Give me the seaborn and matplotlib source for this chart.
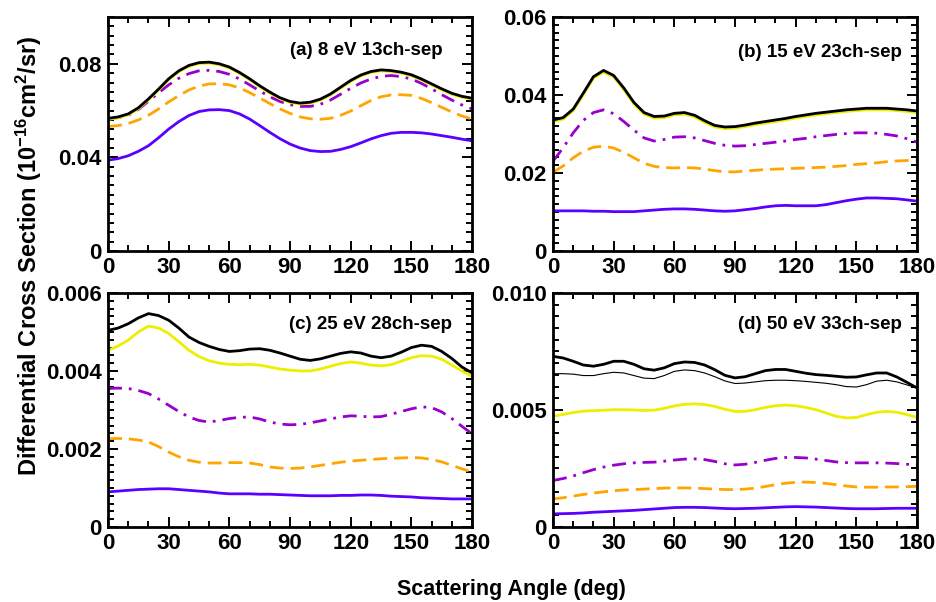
import numpy as np
import matplotlib
matplotlib.use("Agg")
import matplotlib.pyplot as plt
import seaborn as sns
from matplotlib.ticker import MultipleLocator

# scattering angles (deg), 5-degree grid shared by all panels
ANGLES = list(range(0, 181, 5))

# (a) 8 eV
a_blue = [0.0388, 0.0395, 0.0407, 0.0426, 0.0450, 0.0484, 0.0521, 0.0553, 0.0579, 0.0596,
          0.0603, 0.0604, 0.0600, 0.0586, 0.0564, 0.0536, 0.0507, 0.0480, 0.0457, 0.0440,
          0.0429, 0.0425, 0.0426, 0.0434, 0.0446, 0.0462, 0.0479, 0.0493, 0.0503, 0.0507,
          0.0507, 0.0505, 0.0500, 0.0493, 0.0486, 0.0478, 0.0471]
a_orange = [0.0532, 0.0536, 0.0545, 0.0560, 0.0580, 0.0607, 0.0637, 0.0664, 0.0688, 0.0705,
            0.0714, 0.0715, 0.0710, 0.0697, 0.0677, 0.0654, 0.0630, 0.0607, 0.0588, 0.0573,
            0.0565, 0.0563, 0.0567, 0.0580, 0.0598, 0.0621, 0.0643, 0.0659, 0.0667, 0.0668,
            0.0665, 0.0652, 0.0634, 0.0614, 0.0594, 0.0577, 0.0564]
a_purple = [0.0565, 0.0570, 0.0580, 0.0605, 0.0640, 0.0676, 0.0710, 0.0738, 0.0758, 0.0770,
            0.0772, 0.0767, 0.0755, 0.0735, 0.0710, 0.0684, 0.0659, 0.0639, 0.0625, 0.0618,
            0.0618, 0.0627, 0.0645, 0.0670, 0.0695, 0.0718, 0.0735, 0.0746, 0.0750, 0.0745,
            0.0735, 0.0716, 0.0693, 0.0668, 0.0645, 0.0624, 0.0607]
a_yellow = [0.0563, 0.0569, 0.0582, 0.0608, 0.0646, 0.0688, 0.0732, 0.0766, 0.0789, 0.0801,
            0.0803, 0.0796, 0.0782, 0.0759, 0.0732, 0.0702, 0.0675, 0.0651, 0.0635, 0.0628,
            0.0632, 0.0645, 0.0667, 0.0696, 0.0725, 0.0748, 0.0763, 0.0770, 0.0767, 0.0760,
            0.0749, 0.0731, 0.0710, 0.0689, 0.0670, 0.0657, 0.0649]
a_black = [0.0567, 0.0573, 0.0586, 0.0612, 0.0650, 0.0692, 0.0736, 0.0770, 0.0793, 0.0805,
           0.0807, 0.0800, 0.0786, 0.0763, 0.0736, 0.0706, 0.0679, 0.0655, 0.0639, 0.0632,
           0.0636, 0.0649, 0.0671, 0.0700, 0.0729, 0.0752, 0.0767, 0.0774, 0.0771, 0.0764,
           0.0753, 0.0735, 0.0714, 0.0693, 0.0674, 0.0661, 0.0653]

# (b) 15 eV
b_blue = [0.0103, 0.0103, 0.0103, 0.0103, 0.0102, 0.0102, 0.0101, 0.0101, 0.0101, 0.0103,
          0.0105, 0.0107, 0.0108, 0.0108, 0.0107, 0.0105, 0.0103, 0.0102, 0.0103, 0.0106,
          0.0109, 0.0113, 0.0116, 0.0117, 0.0116, 0.0116, 0.0116, 0.0119, 0.0124, 0.0129,
          0.0133, 0.0136, 0.0136, 0.0135, 0.0134, 0.0131, 0.0128]
b_orange = [0.0202, 0.0218, 0.0239, 0.0256, 0.0266, 0.0269, 0.0264, 0.0253, 0.0239, 0.0225,
            0.0217, 0.0214, 0.0213, 0.0214, 0.0213, 0.0210, 0.0206, 0.0203, 0.0203, 0.0205,
            0.0207, 0.0209, 0.0210, 0.0211, 0.0212, 0.0213, 0.0214, 0.0215, 0.0217, 0.0219,
            0.0222, 0.0224, 0.0226, 0.0229, 0.0231, 0.0232, 0.0233]
b_purple = [0.0230, 0.0265, 0.0303, 0.0335, 0.0355, 0.0362, 0.0352, 0.0332, 0.0310, 0.0290,
            0.0282, 0.0286, 0.0292, 0.0293, 0.0290, 0.0283, 0.0276, 0.0271, 0.0269, 0.0270,
            0.0273, 0.0276, 0.0279, 0.0282, 0.0286, 0.0289, 0.0293, 0.0296, 0.0299, 0.0301,
            0.0303, 0.0303, 0.0302, 0.0299, 0.0295, 0.0288, 0.0279]
b_yellow = [0.0332, 0.0338, 0.0360, 0.0401, 0.0443, 0.0459, 0.0446, 0.0414, 0.0377, 0.0351,
            0.0341, 0.0342, 0.0349, 0.0351, 0.0344, 0.0330, 0.0318, 0.0314, 0.0315, 0.0319,
            0.0324, 0.0328, 0.0332, 0.0336, 0.0341, 0.0345, 0.0349, 0.0352, 0.0355, 0.0358,
            0.0360, 0.0362, 0.0362, 0.0362, 0.0360, 0.0358, 0.0355]
b_black = [0.0336, 0.0342, 0.0364, 0.0405, 0.0447, 0.0463, 0.0450, 0.0418, 0.0381, 0.0355,
           0.0345, 0.0346, 0.0353, 0.0355, 0.0348, 0.0334, 0.0322, 0.0318, 0.0319, 0.0323,
           0.0328, 0.0332, 0.0336, 0.0340, 0.0345, 0.0349, 0.0353, 0.0356, 0.0359, 0.0362,
           0.0364, 0.0366, 0.0366, 0.0366, 0.0364, 0.0362, 0.0359]

# (c) 25 eV
c_blue = [0.00090, 0.00092, 0.00094, 0.00096, 0.00097, 0.00098, 0.00098, 0.00096, 0.00094, 0.00092,
          0.00090, 0.00087, 0.00085, 0.00085, 0.00085, 0.00084, 0.00084, 0.00083, 0.00082, 0.00081,
          0.00080, 0.00080, 0.00080, 0.00081, 0.00081, 0.00082, 0.00082, 0.00081, 0.00079, 0.00078,
          0.00077, 0.00075, 0.00074, 0.00073, 0.00072, 0.00072, 0.00072]
c_orange = [0.00226, 0.00227, 0.00226, 0.00223, 0.00218, 0.00206, 0.00192, 0.00180, 0.00171, 0.00166,
            0.00164, 0.00164, 0.00165, 0.00165, 0.00164, 0.00160, 0.00154, 0.00151, 0.00150, 0.00151,
            0.00154, 0.00158, 0.00162, 0.00166, 0.00169, 0.00171, 0.00173, 0.00175, 0.00176, 0.00177,
            0.00178, 0.00177, 0.00173, 0.00167, 0.00158, 0.00149, 0.00141]
c_purple = [0.00355, 0.00356, 0.00355, 0.00350, 0.00342, 0.00328, 0.00312, 0.00296, 0.00282, 0.00273,
            0.00269, 0.00273, 0.00278, 0.00281, 0.00282, 0.00277, 0.00269, 0.00264, 0.00262, 0.00263,
            0.00267, 0.00272, 0.00277, 0.00282, 0.00285, 0.00284, 0.00282, 0.00283, 0.00289, 0.00296,
            0.00303, 0.00308, 0.00306, 0.00295, 0.00278, 0.00258, 0.00239]
c_yellow = [0.00453, 0.00464, 0.00479, 0.00500, 0.00515, 0.00510, 0.00496, 0.00475, 0.00453, 0.00437,
            0.00426, 0.00420, 0.00417, 0.00416, 0.00417, 0.00415, 0.00410, 0.00405, 0.00402, 0.00400,
            0.00400, 0.00405, 0.00412, 0.00419, 0.00423, 0.00420, 0.00415, 0.00413, 0.00416, 0.00425,
            0.00434, 0.00439, 0.00438, 0.00430, 0.00415, 0.00400, 0.00386]
c_black = [0.00504, 0.00510, 0.00521, 0.00536, 0.00547, 0.00542, 0.00530, 0.00510, 0.00487, 0.00473,
           0.00463, 0.00455, 0.00450, 0.00452, 0.00456, 0.00457, 0.00453, 0.00446, 0.00438, 0.00430,
           0.00427, 0.00431, 0.00438, 0.00445, 0.00449, 0.00446, 0.00438, 0.00434, 0.00438, 0.00448,
           0.00460, 0.00466, 0.00463, 0.00450, 0.00432, 0.00410, 0.00395]

# (d) 50 eV
d_blue = [0.00056, 0.00057, 0.00058, 0.00060, 0.00063, 0.00065, 0.00067, 0.00069, 0.00071, 0.00074,
          0.00077, 0.00080, 0.00083, 0.00084, 0.00084, 0.00083, 0.00081, 0.00079, 0.00078, 0.00079,
          0.00080, 0.00082, 0.00084, 0.00086, 0.00087, 0.00086, 0.00085, 0.00083, 0.00081, 0.00079,
          0.00078, 0.00078, 0.00078, 0.00079, 0.00080, 0.00080, 0.00080]
d_orange = [0.00120, 0.00125, 0.00132, 0.00139, 0.00145, 0.00150, 0.00155, 0.00158, 0.00160, 0.00162,
            0.00164, 0.00166, 0.00167, 0.00167, 0.00166, 0.00164, 0.00162, 0.00160, 0.00160, 0.00162,
            0.00166, 0.00173, 0.00181, 0.00187, 0.00191, 0.00192, 0.00190, 0.00186, 0.00181, 0.00175,
            0.00171, 0.00170, 0.00170, 0.00171, 0.00171, 0.00172, 0.00174]
d_purple = [0.00199, 0.00207, 0.00218, 0.00232, 0.00245, 0.00256, 0.00264, 0.00270, 0.00274, 0.00276,
            0.00277, 0.00281, 0.00286, 0.00290, 0.00291, 0.00288, 0.00280, 0.00270, 0.00265, 0.00268,
            0.00276, 0.00285, 0.00293, 0.00297, 0.00297, 0.00295, 0.00290, 0.00284, 0.00278, 0.00275,
            0.00274, 0.00274, 0.00274, 0.00273, 0.00271, 0.00268, 0.00266]
d_yellow = [0.00473, 0.00481, 0.00489, 0.00495, 0.00497, 0.00499, 0.00501, 0.00501, 0.00500, 0.00498,
            0.00499, 0.00507, 0.00517, 0.00524, 0.00526, 0.00523, 0.00515, 0.00503, 0.00494, 0.00494,
            0.00501, 0.00511, 0.00518, 0.00521, 0.00518, 0.00511, 0.00501, 0.00487, 0.00473, 0.00466,
            0.00468, 0.00480, 0.00490, 0.00494, 0.00490, 0.00480, 0.00469]
d_thin = [0.00655, 0.00655, 0.00653, 0.00647, 0.00647, 0.00655, 0.00661, 0.00658, 0.00647, 0.00636,
          0.00634, 0.00647, 0.00665, 0.00671, 0.00668, 0.00658, 0.00642, 0.00624, 0.00613, 0.00615,
          0.00620, 0.00625, 0.00627, 0.00627, 0.00625, 0.00622, 0.00618, 0.00614, 0.00608, 0.00600,
          0.00598, 0.00608, 0.00623, 0.00627, 0.00620, 0.00607, 0.00594]
d_black = [0.00729, 0.00722, 0.00708, 0.00692, 0.00687, 0.00695, 0.00708, 0.00708, 0.00695, 0.00676,
           0.00670, 0.00680, 0.00698, 0.00705, 0.00703, 0.00692, 0.00672, 0.00648, 0.00637, 0.00642,
           0.00655, 0.00668, 0.00673, 0.00673, 0.00665, 0.00657, 0.00651, 0.00648, 0.00644, 0.00640,
           0.00641, 0.00650, 0.00658, 0.00658, 0.00641, 0.00618, 0.00594]

panel_titles = ["(a) 8 eV 13ch-sep", "(b) 15 eV 23ch-sep", "(c) 25 eV 28ch-sep", "(d) 50 eV 33ch-sep"]
y_max = [0.1, 0.06, 0.006, 0.010]
y_major = [0.04, 0.02, 0.002, 0.005]
y_ticklabels = [["0", "0.04", "0.08"], ["0", "0.02", "0.04", "0.06"],
                ["0", "0.002", "0.004", "0.006"], ["0", "0.005", "0.010"]]

BLUE = "#5a00ff"
ORANGE = "#ffa500"
PURPLE = "#9900cc"
YELLOW = "#eeee00"
BLACK = "#000000"

sns.set_style("ticks", {"axes.edgecolor": "black", "text.color": "black",
                        "xtick.color": "black", "ytick.color": "black",
                        "axes.labelcolor": "black"})
plt.rcParams['font.family'] = ['Liberation Sans', 'DejaVu Sans']
plt.rcParams['font.weight'] = 'bold'
plt.rcParams['mathtext.fontset'] = 'custom'
plt.rcParams['mathtext.rm'] = 'Liberation Sans:bold'
plt.rcParams['mathtext.default'] = 'rm'

fig = plt.figure(figsize=(9.37, 6.02), dpi=100)
# axes rectangles: left, bottom, width, height
rects = [[0.1153, 0.583, 0.3885, 0.3888], [0.5902, 0.583, 0.3885, 0.3888],
         [0.1153, 0.1246, 0.3885, 0.3888], [0.5902, 0.1246, 0.3885, 0.3888]]
title_pos = [(0.918, 0.855), (0.959, 0.85), (0.945, 0.863), (0.959, 0.863)]

DASH = (0, (5, 2.5))
DASHDOT = (0, (5, 2.5, 1, 2.5))
panels = [
    [(a_blue, BLUE, '-', 2.0), (a_orange, ORANGE, DASH, 2.0), (a_purple, PURPLE, DASHDOT, 2.0),
     (a_yellow, YELLOW, '-', 2.0), (a_black, BLACK, '-', 2.0)],
    [(b_blue, BLUE, '-', 2.0), (b_orange, ORANGE, DASH, 2.0), (b_purple, PURPLE, DASHDOT, 2.0),
     (b_yellow, YELLOW, '-', 2.0), (b_black, BLACK, '-', 2.0)],
    [(c_blue, BLUE, '-', 2.0), (c_orange, ORANGE, DASH, 2.0), (c_purple, PURPLE, DASHDOT, 2.0),
     (c_yellow, YELLOW, '-', 2.0), (c_black, BLACK, '-', 2.0)],
    [(d_blue, BLUE, '-', 2.0), (d_orange, ORANGE, DASH, 2.0), (d_purple, PURPLE, DASHDOT, 2.0),
     (d_yellow, YELLOW, '-', 2.0), (d_thin, BLACK, '-', 0.8), (d_black, BLACK, '-', 2.0)],
]

for i in range(4):
    ax = fig.add_axes(rects[i])
    for values, color, ls, lw in panels[i]:
        sns.lineplot(x=ANGLES, y=values, ax=ax, color=color, linestyle=ls, linewidth=lw,
                     solid_joinstyle='round', dash_joinstyle='round')
    ax.set_xlim(0, 180)
    ax.set_ylim(0, y_max[i])
    ax.set_xticks([0, 30, 60, 90, 120, 150, 180])
    ax.xaxis.set_minor_locator(MultipleLocator(10))
    ticks = [k * y_major[i] for k in range(len(y_ticklabels[i]))]
    ax.set_yticks(ticks)
    ax.set_yticklabels(y_ticklabels[i])
    ax.yaxis.set_minor_locator(MultipleLocator(y_major[i] / 10))
    ax.tick_params(which='both', direction='in', top=True, right=True, width=1.4, labelsize=16,
                   colors='black')
    ax.tick_params(which='major', length=7.5, pad=4.5)
    ax.tick_params(which='minor', length=4)
    for lab in ax.get_xticklabels() + ax.get_yticklabels():
        lab.set_fontweight('bold')
    for sp in ax.spines.values():
        sp.set_linewidth(2)
        sp.set_color('black')
    ax.set_xlabel("")
    ax.set_ylabel("")
    ax.text(title_pos[i][0], title_pos[i][1], panel_titles[i], transform=ax.transAxes,
            ha='right', va='center', fontsize=13.5, fontweight='bold')

fig.text(0.031, 0.575, r"Differential Cross Section (10$^{-16}$cm$^{2}$/sr)", rotation=90,
         ha='center', va='center', fontsize=17, fontweight='bold')
fig.text(0.546, 0.02, "Scattering Angle (deg)", ha='center', va='center', fontsize=15.5, fontweight='bold')

fig.savefig("out.png", dpi=100)
